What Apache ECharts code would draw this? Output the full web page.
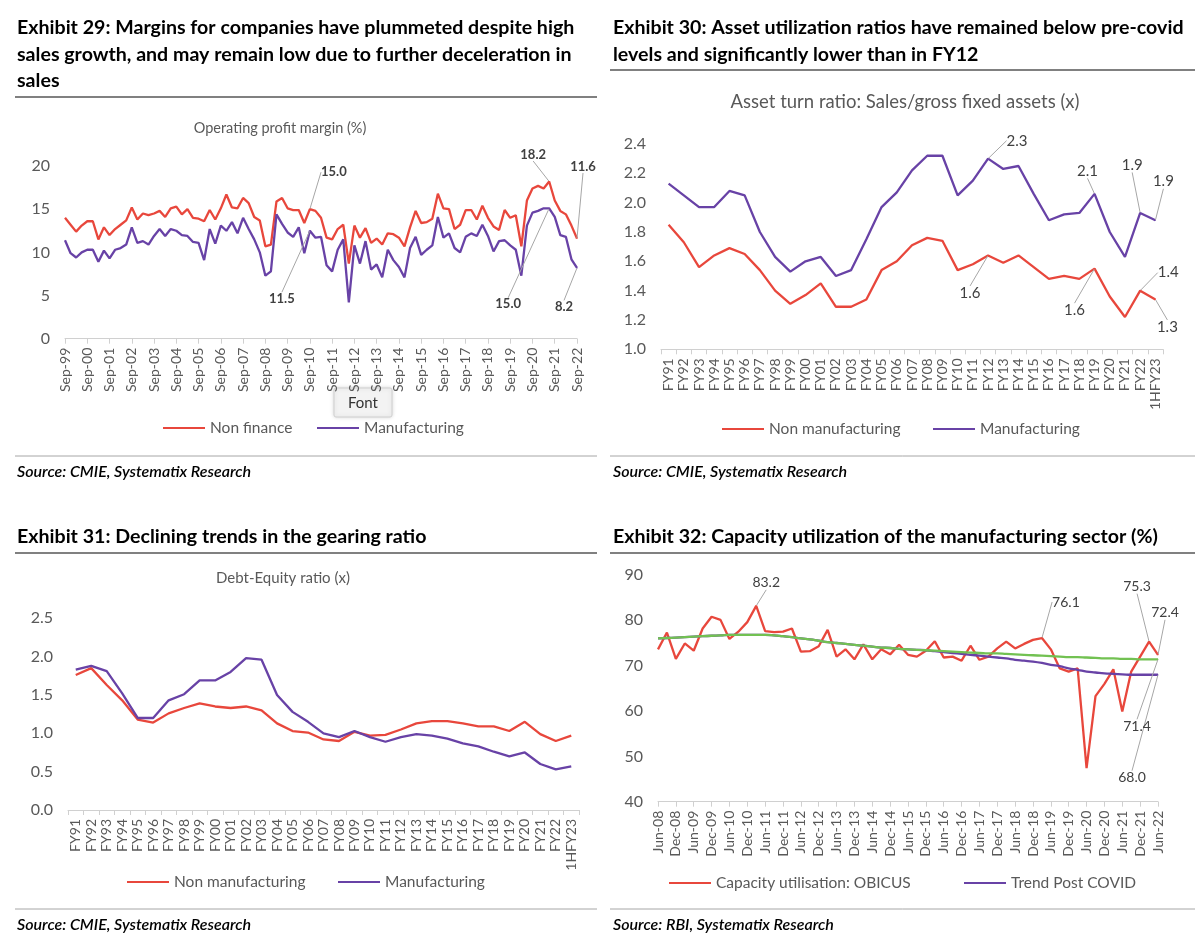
<!DOCTYPE html>
<html><head><meta charset="utf-8">
<script src="https://cdn.jsdelivr.net/npm/echarts@6/dist/echarts.min.js"></script>
<style>html,body{margin:0;padding:0;background:#fff}#c{width:1200px;height:949px}</style>
</head><body><div id="c"></div>
<script>
// ---------- Exhibit 29 : Operating profit margin (%) quarterly Sep-99 .. Sep-22 ----------
const opmCats = [];
(function(){ const m=['Sep','Dec','Mar','Jun']; for(let i=0;i<93;i++){const k=i%4; const y=(k<2?1999:2000)+Math.floor(i/4); opmCats.push(m[k]+'-'+String(y%100).padStart(2,'0'));} })();
const opmNonFinance = [14.0,13.2,12.4,13.1,13.6,13.6,11.5,12.9,12.0,12.7,13.2,13.7,15.2,13.8,14.5,14.3,14.5,14.8,14.1,15.1,15.3,14.4,15.0,14.0,13.9,13.6,14.9,13.8,15.1,16.7,15.2,15.1,16.3,15.7,14.1,13.7,10.7,10.9,15.9,16.3,15.1,14.9,14.9,13.4,15.0,
  14.8,14.0,11.7,11.5,12.7,13.2,8.7,13.1,11.7,12.8,11.1,11.6,10.9,12.2,12.1,11.7,10.7,12.9,14.8,13.4,13.5,13.9,16.8,15.1,15.0,12.7,13.2,14.9,14.9,13.8,15.4,14.0,13.0,12.6,14.9,14.0,14.3,10.7,16.0,17.4,17.7,17.4,18.2,16.0,14.8,14.4,13.1,11.6];
const opmManufacturing = [11.4,9.9,9.4,10.0,10.3,10.3,8.9,10.2,9.3,10.3,10.5,10.9,12.9,11.1,11.3,10.9,11.9,12.7,11.9,12.7,12.5,12.0,11.9,11.2,11.1,9.1,12.7,11.0,13.1,12.5,13.5,12.2,14.0,12.7,11.5,10.0,7.3,7.8,14.4,13.3,12.3,11.8,12.9,9.9,12.5,
  11.7,11.8,8.5,7.8,10.3,11.5,4.2,10.8,8.7,11.3,8.0,8.6,7.1,10.3,9.1,8.3,7.1,10.5,11.8,9.7,10.3,10.8,14.1,11.7,12.2,10.5,10.0,11.8,12.2,11.9,13.2,11.9,10.1,11.3,11.4,10.8,10.3,7.3,13.1,14.6,14.8,15.1,15.1,14.1,12.0,11.8,9.2,8.2];

// ---------- Exhibit 30 / 31 : fiscal years ----------
const fyCats = ['FY91','FY92','FY93','FY94','FY95','FY96','FY97','FY98','FY99','FY00','FY01','FY02','FY03','FY04','FY05','FY06','FY07','FY08','FY09','FY10','FY11','FY12','FY13','FY14','FY15','FY16','FY17','FY18','FY19','FY20','FY21','FY22','1HFY23'];
const turnNonMfg = [1.85,1.73,1.56,1.64,1.69,1.65,1.54,1.40,1.31,1.37,1.45,1.29,1.29,1.34,1.54,1.60,1.71,1.76,1.74,1.54,1.58,1.64,1.59,1.64,1.56,1.48,1.50,1.48,1.55,1.36,1.22,1.40,1.34];
const turnMfg    = [2.13,2.05,1.97,1.97,2.08,2.05,1.80,1.63,1.53,1.60,1.63,1.50,1.54,1.75,1.97,2.07,2.22,2.32,2.32,2.05,2.15,2.30,2.23,2.25,2.06,1.88,1.92,1.93,2.06,1.80,1.63,1.93,1.88];
const deNonMfg = [1.76,1.85,1.63,1.43,1.18,1.14,1.26,1.33,1.39,1.35,1.33,1.35,1.30,1.13,1.03,1.01,0.92,0.90,1.02,0.97,0.98,1.05,1.13,1.16,1.16,1.13,1.09,1.09,1.03,1.15,0.99,0.90,0.97];
const deMfg    = [1.83,1.88,1.81,1.52,1.20,1.20,1.43,1.51,1.69,1.69,1.80,1.98,1.96,1.50,1.28,1.15,1.00,0.95,1.03,0.95,0.89,0.95,0.99,0.97,0.93,0.87,0.83,0.76,0.70,0.75,0.60,0.53,0.57];

// ---------- Exhibit 32 : capacity utilisation quarterly Jun-08 .. Jun-22 ----------
const cuCats = [];
(function(){ const m=['Jun','Sep','Dec','Mar']; for(let i=0;i<57;i++){const k=i%4; const y=(k<3?2008:2009)+Math.floor(i/4); cuCats.push(m[k]+'-'+String(y%100).padStart(2,'0'));} })();
const obicus = [73.6,77.3,71.5,74.9,73.3,78.2,80.8,80.1,75.9,77.5,79.6,83.2,77.6,77.4,77.5,78.2,73.1,73.2,74.3,77.9,72.0,73.6,71.4,74.7,71.4,73.6,72.5,74.6,72.4,
  72.0,73.3,75.4,71.8,72.0,71.1,74.4,71.3,72.0,73.8,75.3,73.8,74.8,75.7,76.1,73.6,69.4,68.7,69.4,47.4,63.3,66.0,69.2,59.9,68.7,72.0,75.3,72.4];
const trendPostCovid = [76.0,76.1,76.2,76.3,76.4,76.5,76.6,76.7,76.8,76.8,76.8,76.8,76.8,76.7,76.5,76.3,76.0,75.8,75.5,75.2,75.0,74.8,74.6,74.4,74.2,74.0,73.9,73.7,73.6,73.5,73.4,
  73.2,73.0,72.8,72.6,72.4,72.2,72.0,71.8,71.6,71.3,71.1,70.9,70.6,70.2,69.9,69.4,69.1,68.7,68.5,68.3,68.2,68.1,68.0,68.0,68.0,68.0];
const trendLong = [76.0,76.1,76.2,76.3,76.4,76.5,76.6,76.7,76.8,76.8,76.8,76.8,76.8,76.7,76.5,76.3,76.0,75.8,75.5,75.2,75.0,74.8,74.6,74.4,74.2,74.0,73.9,73.7,73.6,73.5,73.4,
  73.3,73.2,73.1,73.0,72.9,72.8,72.7,72.7,72.6,72.5,72.4,72.3,72.2,72.1,72.0,71.9,71.9,71.8,71.7,71.6,71.6,71.5,71.5,71.4,71.4,71.4];

// ---------- callout labels ----------
const lblOpmNF  = {44:['15.0',24,-37], 87:['18.2',-16,-27], 92:['11.6',6,-72]};
const lblOpmMfg = {44:['11.5',-28,68], 87:['15.0',-41,96], 92:['8.2',-13,39]};
const lblTurnNM = {21:['1.6',-18,38], 28:['1.6',-20,42], 31:['1.4',28,-18], 32:['1.3',12,28]};
const lblTurnM  = {21:['2.3',29,-18], 28:['2.1',-7,-23], 31:['1.9',-8,-48], 32:['1.9',8,-39]};
const lblCU     = {11:['83.2',10,-23], 43:['76.1',24,-36], 55:['75.3',-12,-55], 56:['72.4',7,-42]};
const lblTrendL = {56:['71.4',-21,67]};
const lblTrendC = {56:['68.0',-26,103]};

const RED='#E8473C', PURPLE='#6842A6', GREEN='#72C152';
const FONT='Lato';
const AX='#595959';

function mk(values, lbl, fs, fw){
  return values.map((v,i)=> lbl[i] ? {value:v, symbol:'circle', symbolSize:1,
    label:{show:true, position:'inside', formatter:lbl[i][0], fontSize:fs, fontWeight:fw, color:'#404040', fontFamily:FONT}} : v);
}
function lineSeries(name, values, color, xi, lbl, fs, fw, extra){
  lbl = lbl || {};
  return Object.assign({
    type:'line', name:name, xAxisIndex:xi, yAxisIndex:xi, data:mk(values,lbl,fs||13,fw||'normal'),
    symbol:'none', showSymbol:true, showAllSymbol:true, silent:true,
    lineStyle:{color:color, width:2.3}, itemStyle:{color:color},
    labelLine:{show:true, lineStyle:{color:'#A6A6A6', width:1}},
    labelLayout:function(p){ const o=lbl[p.dataIndex]; return o ? {dx:o[1], dy:o[2]} : {}; }
  }, extra||{});
}
function catAxis(gi, data, bg, interval){
  return {gridIndex:gi, type:'category', data:data, boundaryGap:bg,
    axisLine:{lineStyle:{color:'#D0D0D0', width:1}},
    axisTick:{show:true, interval:interval, length:5, alignWithLabel:false, lineStyle:{color:'#D0D0D0'}},
    axisLabel:{interval:interval, rotate:90, color:AX, fontSize:14, fontFamily:FONT, margin:9},
    splitLine:{show:false}};
}
function valAxis(gi, min, max, iv, dec){
  return {gridIndex:gi, type:'value', min:min, max:max, interval:iv,
    axisLine:{show:false}, axisTick:{show:false}, splitLine:{show:false},
    axisLabel:{color:AX, fontSize:16, fontFamily:FONT, margin:15, formatter:v=>v.toFixed(dec)}};
}
function legendItem(name, left, top){
  return {data:[name], left:left, top:top, orient:'horizontal', padding:0, icon:'rect', itemWidth:42, itemHeight:2,
    selectedMode:false, textStyle:{color:AX, fontSize:15.5, fontFamily:FONT, lineHeight:18}};
}
function txt(x,y,t,font,fill,align){
  return {type:'text', x:x, y:y, silent:true, style:{text:t, font:font, fill:fill||'#000', align:align||'left', verticalAlign:'middle'}};
}
function hline(x1,x2,y,w,c){
  return {type:'line', silent:true, shape:{x1:x1,y1:y,x2:x2,y2:y}, style:{stroke:c, lineWidth:w}};
}
const TF = 'bold 19.6px '+FONT;
const SF = 'italic 600 16px '+FONT;
const CT = '14.5px '+FONT;

const option = {
  animation:false,
  textStyle:{fontFamily:FONT},
  grid:[
    {left:65, top:166, width:512, height:172.7},
    {left:661, top:144, width:502, height:205.3},
    {left:68, top:618.3, width:511, height:191.7},
    {left:658, top:575, width:500, height:226.7}
  ],
  xAxis:[ catAxis(0, opmCats, false, 3), catAxis(1, fyCats, true, 0), catAxis(2, fyCats, true, 0), catAxis(3, cuCats, false, 1) ],
  yAxis:[ valAxis(0,0,20,5,0), valAxis(1,1.0,2.4,0.2,1), valAxis(2,0,2.5,0.5,1), valAxis(3,40,90,10,0) ],
  legend:[
    legendItem('Non finance',163,419), legendItem('Manufacturing',317,419),
    legendItem('Non manufacturing',722,420), legendItem('Manufacturing',933,420),
    legendItem('Non manufacturing',127,873), legendItem('Manufacturing',338,873),
    legendItem('Capacity utilisation: OBICUS',669,874), legendItem('Trend Post COVID',964,874)
  ],
  series:[
    lineSeries('Non finance', opmNonFinance, RED, 0, lblOpmNF, 13, 'bold'),
    lineSeries('Manufacturing', opmManufacturing, PURPLE, 0, lblOpmMfg, 13, 'bold'),
    lineSeries('Non manufacturing', turnNonMfg, RED, 1, lblTurnNM, 15, 'normal'),
    lineSeries('Manufacturing', turnMfg, PURPLE, 1, lblTurnM, 15, 'normal'),
    lineSeries('Non manufacturing', deNonMfg, RED, 2, {}, 13, 'normal'),
    lineSeries('Manufacturing', deMfg, PURPLE, 2, {}, 13, 'normal'),
    lineSeries('Capacity utilisation: OBICUS', obicus, RED, 3, lblCU, 14, 'normal'),
    lineSeries('Trend Post COVID', trendPostCovid, PURPLE, 3, lblTrendC, 14, 'normal', {smooth:true}),
    lineSeries('Long-term trend', trendLong, GREEN, 3, lblTrendL, 14, 'normal', {smooth:true})
  ],
  graphic:[
    txt(17,28,'Exhibit 29: Margins for companies have plummeted despite high',TF),
    txt(17,54.5,'sales growth, and may remain low due to further deceleration in',TF),
    txt(17,81,'sales',TF),
    hline(15,597,97,2,'#808080'),
    txt(280,128,'Operating profit margin (%)',CT,AX,'center'),
    hline(15,597,456,1,'#A6A6A6'),
    txt(17,472,'Source: CMIE, Systematix Research',SF),

    txt(613,28,'Exhibit 30: Asset utilization ratios have remained below pre-covid',TF),
    txt(613,54.5,'levels and significantly lower than in FY12',TF),
    hline(610,1195,70,2,'#808080'),
    txt(905,102,'Asset turn ratio: Sales/gross fixed assets (x)','18.5px '+FONT,AX,'center'),
    hline(610,1195,456,1,'#A6A6A6'),
    txt(613,472,'Source: CMIE, Systematix Research',SF),

    txt(17,537,'Exhibit 31: Declining trends in the gearing ratio',TF),
    hline(15,597,553,2,'#808080'),
    txt(283,578,'Debt-Equity ratio (x)','15px '+FONT,AX,'center'),
    hline(15,597,909,1,'#A6A6A6'),
    txt(17,925,'Source: CMIE, Systematix Research',SF),

    txt(613,537,'Exhibit 32: Capacity utilization of the manufacturing sector (%)',TF),
    hline(610,1195,553,2,'#808080'),
    hline(610,1195,909,1,'#A6A6A6'),
    txt(613,925,'Source: RBI, Systematix Research',SF),

    {type:'rect', silent:true, shape:{x:334,y:388,width:58,height:29,r:2}, style:{fill:'#F3F3F3', stroke:'#CFCFCF', lineWidth:1, shadowBlur:4, shadowColor:'rgba(0,0,0,0.15)'}},
    txt(363,403,'Font','15px '+FONT,'#333','center')
  ]
};
const chart = echarts.init(document.getElementById('c'), null, {renderer:'canvas'});
chart.setOption(option);
</script></body></html>
